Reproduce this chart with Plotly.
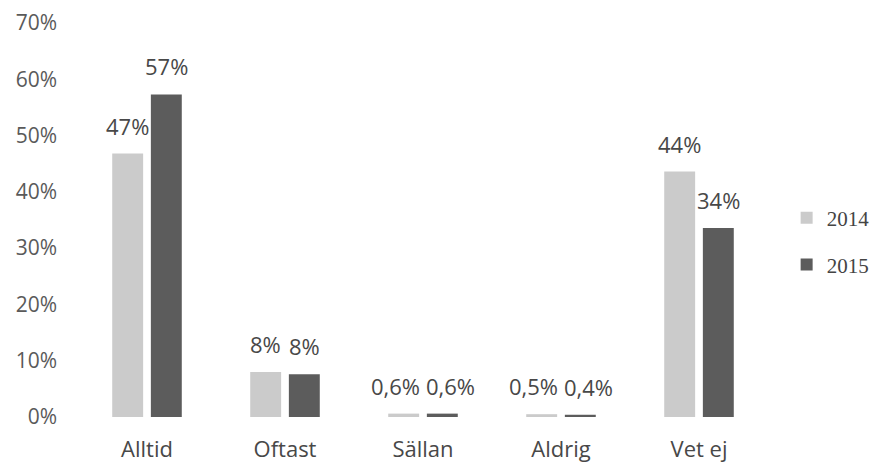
import plotly.graph_objects as go

categories = ["Alltid", "Oftast", "Sällan", "Aldrig", "Vet ej"]
values_2014 = [46.8, 8.0, 0.6, 0.5, 43.6]
values_2015 = [57.3, 7.6, 0.6, 0.4, 33.6]
labels_2014 = ["47%", "8%", "0,6%", "0,5%", "44%"]
labels_2015 = ["57%", "8%", "0,6%", "0,4%", "34%"]
y_ticks = [0, 10, 20, 30, 40, 50, 60, 70]
y_tick_labels = ["0%", "10%", "20%", "30%", "40%", "50%", "60%", "70%"]

BARGAP = 0.44
GROUPGAP = 0.2
slot = (1 - BARGAP) / 2          # category fraction per series
bar_off = slot / 2               # center offset of each bar from category center

label_font = dict(family="Open Sans", size=22, color="#484848")

fig = go.Figure()
fig.add_trace(go.Bar(
    x=categories, y=values_2014, name="2014",
    marker=dict(color="#cbcbcb", line=dict(width=0)), legend="legend",
))
fig.add_trace(go.Bar(
    x=categories, y=values_2015, name="2015",
    marker=dict(color="#5c5c5c", line=dict(width=0)), legend="legend2",
))

annotations = []
for side, vals, labs in ((-1, values_2014, labels_2014), (1, values_2015, labels_2015)):
    for i, (v, t) in enumerate(zip(vals, labs)):
        spread = 8 if v < 2 else 0   # push apart labels of tiny neighbouring bars
        annotations.append(dict(
            x=i + side * bar_off, y=v, xref="x", yref="y", text=t,
            showarrow=False, yanchor="bottom", xanchor="center",
            xshift=side * spread, yshift=11, font=label_font,
        ))

legend_font = dict(family="Liberation Serif", size=21, color="#444444")
fig.update_layout(
    width=872, height=457,
    margin=dict(l=70, r=112, t=15, b=48, autoexpand=False),
    paper_bgcolor="white", plot_bgcolor="white",
    barmode="group", bargap=BARGAP, bargroupgap=GROUPGAP,
    font=dict(family="Open Sans", color="#555555"),
    annotations=annotations,
    xaxis=dict(showgrid=False, showline=False, zeroline=False, automargin=False,
               tickfont=dict(family="Open Sans", size=22, color="#484848"),
               ticks="outside", ticklen=3, tickcolor="white",
               ticklabelstandoff=10),
    yaxis=dict(range=[0, 70], tickvals=y_ticks, ticktext=y_tick_labels,
               showgrid=False, showline=False, zeroline=False, automargin=False,
               tickfont=dict(family="Open Sans", size=21, color="#5a5a5a"),
               ticklabelstandoff=20),
    legend=dict(x=1.027, y=0.505, xanchor="left", yanchor="middle",
                font=legend_font, itemwidth=30),
    legend2=dict(x=1.027, y=0.386, xanchor="left", yanchor="middle",
                 font=legend_font, itemwidth=30),
    showlegend=True,
)
fig.write_html("out.html")
